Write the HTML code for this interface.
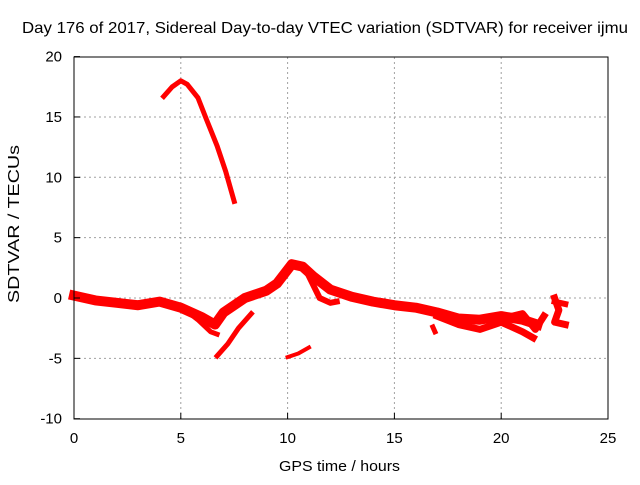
<!DOCTYPE html>
<html><head><meta charset="utf-8"><style>
body{margin:0;background:#fff}
svg text{font-family:"Liberation Sans",sans-serif;font-size:15px;fill:#000}
</style></head><body>
<svg width="640" height="480" xmlns="http://www.w3.org/2000/svg">
<rect width="640" height="480" fill="#fff"/>
<g id="grid"></g>
<g id="series"></g>
<rect x="74" y="57" width="534" height="362" fill="none" stroke="#000" stroke-width="1"/>
<g id="ticks"></g>
<text x="22" y="33" textLength="606" lengthAdjust="spacingAndGlyphs" style="font-size:16px">Day 176 of 2017, Sidereal Day-to-day VTEC variation (SDTVAR) for receiver ijmu</text>
<text x="279" y="471" textLength="121" lengthAdjust="spacingAndGlyphs">GPS time / hours</text>
<text transform="translate(19,303) rotate(-90)" textLength="158" lengthAdjust="spacingAndGlyphs" style="font-size:16px">SDTVAR / TECUs</text>
</svg>
<script>
const xTicks=[0,5,10,15,20,25];
const yTicks=[-10,-5,0,5,10,15,20];
const trackArc=[[4.2,16.7],[4.6,17.5],[5.0,18.0],[5.3,17.7],[5.8,16.6],[6.2,14.8],[6.7,12.6],[7.1,10.5],[7.5,8.0]];
const trackMain=[[0,0.2],[1,-0.2],[2,-0.4],[3,-0.6],[4,-0.3],[5,-0.8],[6,-1.6],[6.6,-2.2],[7,-1.2],[8,0],[9,0.6],[9.5,1.2],[10.2,2.8],[10.7,2.6],[11.2,1.8],[12,0.7],[13,0.1],[14,-0.3],[15,-0.6],[16,-0.8],[17,-1.2],[18,-1.7],[19,-1.8],[20,-1.5],[21,-1.8],[21.7,-2.2]];
const trackDip=[[5,-0.7],[5.8,-1.8],[6.4,-2.8],[6.7,-3.0]];
const trackRise=[[6.7,-4.8],[7.2,-3.8],[7.7,-2.5],[8.3,-1.3]];
const trackShort=[[10.0,-4.9],[10.5,-4.6],[11.0,-4.1]];
const trackLoop=[[11,1.8],[11.5,0],[12,-0.4],[12.3,-0.3]];
const trackLow=[[17,-1.5],[18,-2.2],[19,-2.6],[20,-2.0],[21,-2.8],[21.5,-3.3]];
const trackRight1=[[22.5,0],[22.7,-1],[22.5,-2],[23,-2.2]];
const trackRight2=[[22.5,-0.3],[23,-0.5]];
const trackRight3=[[20.3,-1.6],[21,-1.3],[21.6,-2.6],[22,-1.5]];
const trackBlob=[[16.8,-2.4],[16.9,-2.8]];
const X=v=>74+v*534/25, Y=v=>298-v*12.07;
const ns="http://www.w3.org/2000/svg";
const grid=document.getElementById('grid'),ticks=document.getElementById('ticks'),ser=document.getElementById('series');
function mk(t,a,p){const e=document.createElementNS(ns,t);for(const k in a)e.setAttribute(k,a[k]);p.appendChild(e);return e;}
xTicks.forEach(v=>{
 if(v>0&&v<25){const g=mk('line',{x1:X(v),x2:X(v),y1:57,y2:419,stroke:'#a0a0a0','stroke-dasharray':'2,3'},grid);
 
 }
 mk('line',{x1:X(v),x2:X(v),y1:419,y2:413,stroke:'#000'},ticks);
 const t=mk('text',{x:X(v),y:443,'text-anchor':'middle'},ticks);t.textContent=v;
 
 
});
yTicks.forEach(v=>{
 if(v>-10&&v<20){const g=mk('line',{x1:74,x2:608,y1:Y(v),y2:Y(v),stroke:'#a0a0a0','stroke-dasharray':'2,3'},grid);
 
 }
 mk('line',{x1:74,x2:80,y1:Y(v),y2:Y(v),stroke:'#000'},ticks);
 const t=mk('text',{x:62,y:Y(v)+5,'text-anchor':'end'},ticks);t.textContent=v;
 
 
});
const tracks=[[trackArc,5],[trackMain,10],[trackDip,5],[trackRise,5],[trackShort,4],[trackLoop,6],[trackLow,7],[trackRight1,7],[trackRight2,6],[trackRight3,7],[trackBlob,5]];
tracks.forEach(([d,w])=>{
 const p=mk('polyline',{points:d.map(q=>X(q[0])+','+Y(q[1])).join(' '),fill:'none',stroke:'#ff0000','stroke-width':w,'stroke-linejoin':'round','stroke-linecap':'square'},ser);
 
 
});
</script>
</body></html>
